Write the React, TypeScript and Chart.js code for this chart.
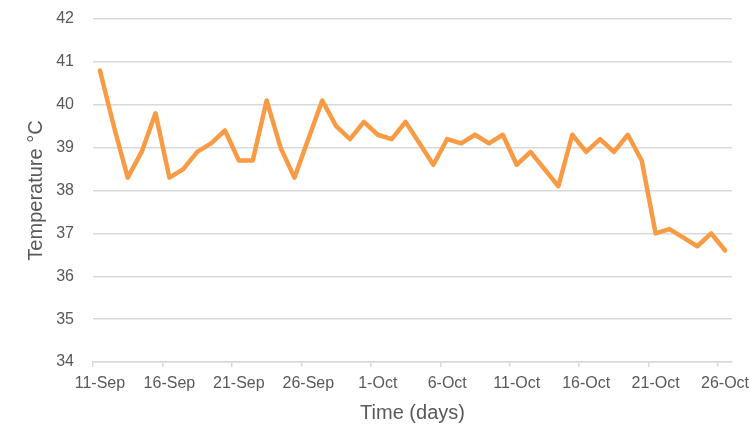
import React, { useEffect, useRef } from "react";
import { Chart, registerables } from "chart.js";

Chart.register(...registerables);

const dates: string[] = [
  "11-Sep", "12-Sep", "13-Sep", "14-Sep", "15-Sep", "16-Sep", "17-Sep", "18-Sep", "19-Sep", "20-Sep",
  "21-Sep", "22-Sep", "23-Sep", "24-Sep", "25-Sep", "26-Sep", "27-Sep", "28-Sep", "29-Sep", "30-Sep",
  "1-Oct", "2-Oct", "3-Oct", "4-Oct", "5-Oct", "6-Oct", "7-Oct", "8-Oct", "9-Oct", "10-Oct",
  "11-Oct", "12-Oct", "13-Oct", "14-Oct", "15-Oct", "16-Oct", "17-Oct", "18-Oct", "19-Oct", "20-Oct",
  "21-Oct", "22-Oct", "23-Oct", "24-Oct", "25-Oct", "26-Oct",
];

const temperatures: number[] = [
  40.8, 39.5, 38.3, 38.9, 39.8, 38.3, 38.5, 38.9, 39.1, 39.4,
  38.7, 38.7, 40.1, 39.0, 38.3, 39.2, 40.1, 39.5, 39.2, 39.6,
  39.3, 39.2, 39.6, 39.1, 38.6, 39.2, 39.1, 39.3, 39.1, 39.3,
  38.6, 38.9, 38.5, 38.1, 39.3, 38.9, 39.2, 38.9, 39.3, 38.7,
  37.0, 37.1, 36.9, 36.7, 37.0, 36.6,
];

const yMin = 34;
const yMax = 42;
const labelEvery = 5;

const FONT = "'Liberation Sans', Arial, sans-serif";
const TEXT = "#595959";
const GRID = "#d9d9d9";

export default function App() {
  const ref = useRef<HTMLCanvasElement | null>(null);

  useEffect(() => {
    if (!ref.current) return;
    const chart = new Chart(ref.current, {
      type: "line",
      data: {
        labels: dates,
        datasets: [
          {
            data: temperatures,
            borderColor: "#F89B44",
            backgroundColor: "#F89B44",
            borderWidth: 4.5,
            pointRadius: 0,
            tension: 0,
            borderJoinStyle: "round",
            borderCapStyle: "round",
          },
        ],
      },
      options: {
        animation: false,
        responsive: false,
        maintainAspectRatio: false,
        layout: { padding: { top: 19, right: 18, left: 0, bottom: 0 } },
        plugins: { legend: { display: false }, tooltip: { enabled: false } },
        scales: {
          x: {
            offset: true,
            grid: {
              offset: true,
              drawOnChartArea: false,
              drawTicks: true,
              tickLength: 5,
              color: (ctx: any) => (ctx.index % labelEvery === 0 ? GRID : "rgba(0,0,0,0)"),
              lineWidth: 1.5,
            },
            border: { display: true, color: GRID, width: 1.5 },
            ticks: {
              autoSkip: false,
              maxRotation: 0,
              minRotation: 0,
              padding: 7,
              color: TEXT,
              font: { family: FONT, size: 16 },
              callback: (_v: any, i: number) => (i % labelEvery === 0 ? dates[i] : ""),
            },
            title: {
              display: true,
              text: "Time (days)",
              color: TEXT,
              font: { family: FONT, size: 20 },
              padding: { top: 0, bottom: 23 },
            },
            afterFit: (s: any) => {
              s.height = 86;
              s.paddingLeft = 0;
              s.paddingRight = 0;
            },
          },
          y: {
            min: yMin,
            max: yMax,
            grid: { color: GRID, lineWidth: 1.5, drawTicks: false },
            border: { display: false },
            ticks: {
              stepSize: 1,
              padding: 19,
              color: TEXT,
              font: { family: FONT, size: 16 },
            },
            title: {
              display: true,
              text: "Temperature °C",
              color: TEXT,
              font: { family: FONT, size: 20 },
              padding: { top: 24, bottom: 0 },
            },
            afterFit: (s: any) => {
              s.width = 93;
              s.paddingTop = 0;
              s.paddingBottom = 0;
            },
          },
        },
      },
    });
    return () => chart.destroy();
  }, []);

  return (
    <div style={{ position: "fixed", left: 0, top: 0, width: 750, height: 448, background: "#fff" }}>
      <canvas ref={ref} width={750} height={448} style={{ width: 750, height: 448, display: "block" }} />
    </div>
  );
}
